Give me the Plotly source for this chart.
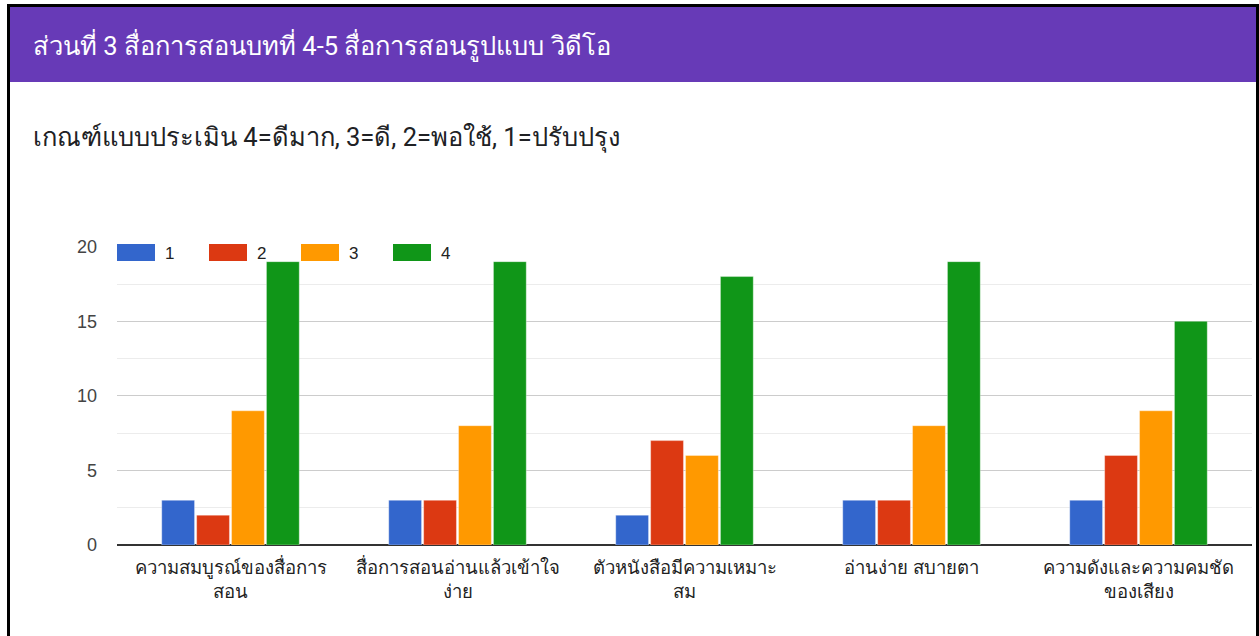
import plotly.graph_objects as go

categories = [
    "ความสมบูรณ์ของสื่อการ<br>สอน",
    "สื่อการสอนอ่านแล้วเข้าใจ<br>ง่าย",
    "ตัวหนังสือมีความเหมาะ<br>สม",
    "อ่านง่าย สบายตา",
    "ความดังและความคมชัด<br>ของเสียง",
]
series_names = ["1", "2", "3", "4"]
values_1 = [3, 3, 2, 3, 3]
values_2 = [2, 3, 7, 3, 6]
values_3 = [9, 8, 6, 8, 9]
values_4 = [19, 19, 18, 19, 15]
colors = ["#3366cc", "#dc3912", "#ff9900", "#109618"]
y_ticks = [0, 5, 10, 15, 20]

header_title = "ส่วนที่ 3 สื่อการสอนบทที่ 4-5 สื่อการสอนรูปแบบ วิดีโอ"
subtitle = "เกณฑ์แบบประเมิน 4=ดีมาก, 3=ดี, 2=พอใช้, 1=ปรับปรุง"

W, H = 1259, 636
L, R, T, B = 117, 7, 246, 91
PW = W - L - R
PH = H - T - B


def px(x):
    return (x - L) / PW


def py(y):
    return (H - B - y) / PH


FONT = "Roboto, Arial, sans-serif"
NUMFONT = "Arial, Liberation Sans, sans-serif"

fig = go.Figure()
all_values = [values_1, values_2, values_3, values_4]
for name, vals, col in zip(series_names, all_values, colors):
    fig.add_trace(go.Bar(
        x=categories, y=vals, name=name,
        marker=dict(color=col, line=dict(color="rgba(255,255,255,0.35)", width=1)),
        showlegend=False,
    ))

shapes = []
annotations = []
# border and header
shapes.append(dict(type="rect", xref="paper", yref="paper", x0=px(10), x1=px(1256), y0=py(82), y1=py(7),
                   fillcolor="#673ab7", line=dict(width=0), layer="below"))
shapes.append(dict(type="rect", xref="paper", yref="paper", x0=px(7), x1=px(10), y0=py(636), y1=py(4),
                   fillcolor="#000000", line=dict(width=0)))
shapes.append(dict(type="rect", xref="paper", yref="paper", x0=px(7), x1=px(1259), y0=py(7), y1=py(4),
                   fillcolor="#000000", line=dict(width=0)))
shapes.append(dict(type="rect", xref="paper", yref="paper", x0=px(1256), x1=px(1259), y0=py(636), y1=py(4),
                   fillcolor="#000000", line=dict(width=0)))

annotations.append(dict(text=header_title, xref="paper", yref="paper", x=px(31), y=py(45),
                        xanchor="left", yanchor="middle", showarrow=False,
                        font=dict(family=FONT, size=25.5, color="#ffffff")))
annotations.append(dict(text=subtitle, xref="paper", yref="paper", x=px(31), y=py(137),
                        xanchor="left", yanchor="middle", showarrow=False,
                        font=dict(family=FONT, size=25.5, color="#202124")))

# custom legend
for i, (name, col) in enumerate(zip(series_names, colors)):
    x0 = 117 + i * 92
    shapes.append(dict(type="rect", xref="paper", yref="paper", x0=px(x0), x1=px(x0 + 38),
                       y0=py(261), y1=py(244), fillcolor=col, line=dict(width=0)))
    annotations.append(dict(text=name, xref="paper", yref="paper", x=px(x0 + 46), y=py(253),
                            xanchor="left", yanchor="middle", showarrow=False,
                            font=dict(family=NUMFONT, size=17, color="#222222")))

fig.update_layout(
    width=W, height=H,
    margin=dict(l=L, r=R, t=T, b=B),
    paper_bgcolor="#ffffff", plot_bgcolor="#ffffff",
    barmode="group", bargap=0.385, bargroupgap=0.06,
    font=dict(family=FONT, size=16, color="#222222"),
    shapes=shapes, annotations=annotations,
    xaxis=dict(showgrid=False, showline=False, ticks="", tickfont=dict(family=FONT, size=18.5, color="#222222"),
               ticklabelstandoff=9),
    yaxis=dict(range=[0, 20.05], tickvals=y_ticks, gridcolor="#cccccc", gridwidth=1,
               zeroline=True, zerolinecolor="#333333", zerolinewidth=2,
               tickfont=dict(family=NUMFONT, size=18, color="#444444"), ticklabelstandoff=19,
               minor=dict(dtick=2.5, showgrid=True, gridcolor="#ececec", gridwidth=1)),
)

fig.write_html("out.html", config={"displayModeBar": False},
               post_script="document.body.style.margin='0px';")
